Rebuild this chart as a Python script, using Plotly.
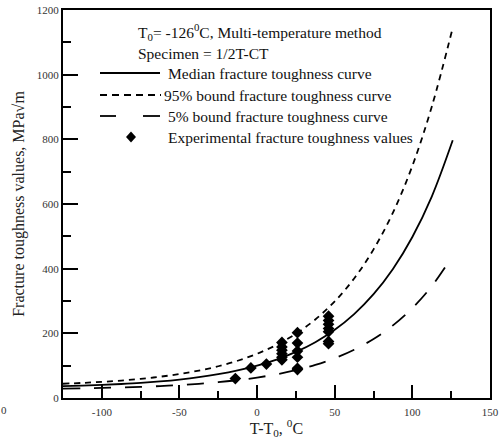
import plotly.graph_objects as go

# Temperature relative to T0 (deg C) at which the master curves are tabulated
t_curve = [-125, -112.5, -100, -87.5, -75, -62.5, -50, -37.5, -25, -12.5, 0,
           12.5, 25, 37.5, 50, 62.5, 75, 87.5, 100, 112.5, 126]

# Fracture toughness (MPa sqrt(m)) along each curve
k_median = [36.5, 38.3, 40.5, 43.3, 46.8, 51.4, 57.1, 64.3, 73.5, 85.2, 100,
            118.8, 142.6, 172.7, 211, 259.5, 321, 399, 498, 623, 797]
k_95 = [44.1, 46.7, 49.9, 54.0, 59.2, 65.8, 74.1, 84.7, 98.2, 115.2, 136.8,
        164.2, 198.9, 243, 298.9, 369.7, 459.6, 573.4, 717.9, 901, 1145]
k_5 = [28.9, 29.9, 31.1, 32.6, 34.5, 36.9, 40.0, 43.9, 48.9, 55.2, 63.2,
       73.3, 86.2, 102.5, 123.1, 149.3, 182.6, 224.7, 278.1, 345.9, 439.7]

# Experimental fracture toughness values
t_exp = [-14, -4, 6, 16, 16, 16, 16, 16, 16, 26, 26, 26, 26, 26, 26,
         46, 46, 46, 46, 46, 46, 46]
k_exp = [60, 93, 105, 172, 158, 148, 137, 126, 118, 202, 170, 145, 126, 92, 88,
         253, 240, 228, 215, 205, 175, 168]

x_ticks = [-100, -50, 0, 50, 100, 150]
y_ticks = [0, 200, 400, 600, 800, 1000, 1200]

SERIF = "Liberation Serif, Times New Roman, serif"
W, H = 504, 439
ML, MR, MT, MB = 63, 14, 10, 41
PW, PH = W - ML - MR, H - MT - MB


def px(x):
    return (x - ML) / PW


def py(y):
    return (H - MB - y) / PH


fig = go.Figure()

fig.add_trace(go.Scatter(x=t_curve, y=k_median, mode="lines", line_shape="spline",
                         line=dict(color="black", width=1.8), showlegend=False))
fig.add_trace(go.Scatter(x=t_curve, y=k_95, mode="lines", line_shape="spline",
                         line=dict(color="black", width=1.8, dash="6px,5px"),
                         showlegend=False))
fig.add_trace(go.Scatter(x=t_curve, y=k_5, mode="lines", line_shape="spline",
                         line=dict(color="black", width=1.8, dash="17px,14px"),
                         showlegend=False))
fig.add_trace(go.Scatter(x=t_exp, y=k_exp, mode="markers",
                         marker=dict(symbol="diamond", size=9, color="black"),
                         showlegend=False))

# Hand-built key inside the plotting area
shapes = [
    dict(type="line", xref="paper", yref="paper", x0=px(100), x1=px(160),
         y0=py(73), y1=py(73), line=dict(color="black", width=1.8)),
    dict(type="line", xref="paper", yref="paper", x0=px(100), x1=px(161),
         y0=py(95), y1=py(95), line=dict(color="black", width=1.8, dash="7px,5px")),
    dict(type="line", xref="paper", yref="paper", x0=px(100), x1=px(116),
         y0=py(116), y1=py(116), line=dict(color="black", width=1.8)),
    dict(type="line", xref="paper", yref="paper", x0=px(143), x1=px(160),
         y0=py(116), y1=py(116), line=dict(color="black", width=1.8)),
    dict(type="path", xref="paper", yref="paper",
         path=f"M {px(131)} {py(131.5)} L {px(136)} {py(137)} L {px(131)} {py(142.5)} "
              f"L {px(126)} {py(137)} Z",
         fillcolor="black", line=dict(color="black", width=0)),
]

legend_font = dict(family=SERIF, size=15.5, color="#111")
annotations = [
    dict(text="T<sub>0</sub>= -126<sup>0</sup>C, Multi-temperature method",
         x=px(136), y=py(32), xanchor="left", yanchor="middle"),
    dict(text="Specimen = 1/2T-CT", x=px(136), y=py(53), xanchor="left",
         yanchor="middle"),
    dict(text="Median fracture toughness curve", x=px(166), y=py(73),
         xanchor="left", yanchor="middle"),
    dict(text="95% bound fracture toughness curve", x=px(162), y=py(95),
         xanchor="left", yanchor="middle"),
    dict(text="5% bound fracture toughness curve", x=px(166), y=py(116),
         xanchor="left", yanchor="middle"),
    dict(text="Experimental fracture toughness values", x=px(166), y=py(137),
         xanchor="left", yanchor="middle"),
]
for a in annotations:
    a.update(xref="paper", yref="paper", showarrow=False, font=legend_font)

# Stray clipped tick label at the far left edge
annotations.append(dict(text="0", xref="paper", yref="paper", x=px(-1), y=py(410),
                        xanchor="left", yanchor="middle", showarrow=False,
                        font=dict(family=SERIF, size=11, color="#333")))

fig.update_layout(
    width=W, height=H,
    margin=dict(l=ML, r=MR, t=MT, b=MB),
    paper_bgcolor="white", plot_bgcolor="white",
    shapes=shapes, annotations=annotations,
    font=dict(family=SERIF, color="#222"),
    xaxis=dict(
        range=[-125, 150], tickvals=x_ticks, ticktext=[str(v) for v in x_ticks],
        ticks="inside", ticklen=13, tickwidth=2, tickcolor="black",
        ticklabelstandoff=3, automargin=False,
        minor=dict(tickvals=[-75, -25, 25, 75, 125], ticks="inside", ticklen=7,
                   tickwidth=2, tickcolor="black"),
        showline=True, linecolor="black", linewidth=2, mirror=True,
        showgrid=False, zeroline=False,
        tickfont=dict(family=SERIF, size=11, color="#333"),
        title=dict(text="T-T<sub>0</sub>, <sup>0</sup>C", standoff=6,
                   font=dict(family=SERIF, size=16, color="#222")),
    ),
    yaxis=dict(
        range=[0, 1200], tickvals=y_ticks, ticktext=[str(v) for v in y_ticks],
        ticks="inside", ticklen=15, tickwidth=2, tickcolor="black",
        automargin=False,
        minor=dict(tickvals=[100, 300, 500, 700, 900, 1100], ticks="inside",
                   ticklen=8, tickwidth=2, tickcolor="black"),
        showline=True, linecolor="black", linewidth=2, mirror=True,
        showgrid=False, zeroline=False,
        tickfont=dict(family=SERIF, size=11, color="#333"),
        title=dict(text="Fracture toughness values, MPa\u221am", standoff=8,
                   font=dict(family=SERIF, size=16, color="#222")),
    ),
)

fig.write_html("out.html")
